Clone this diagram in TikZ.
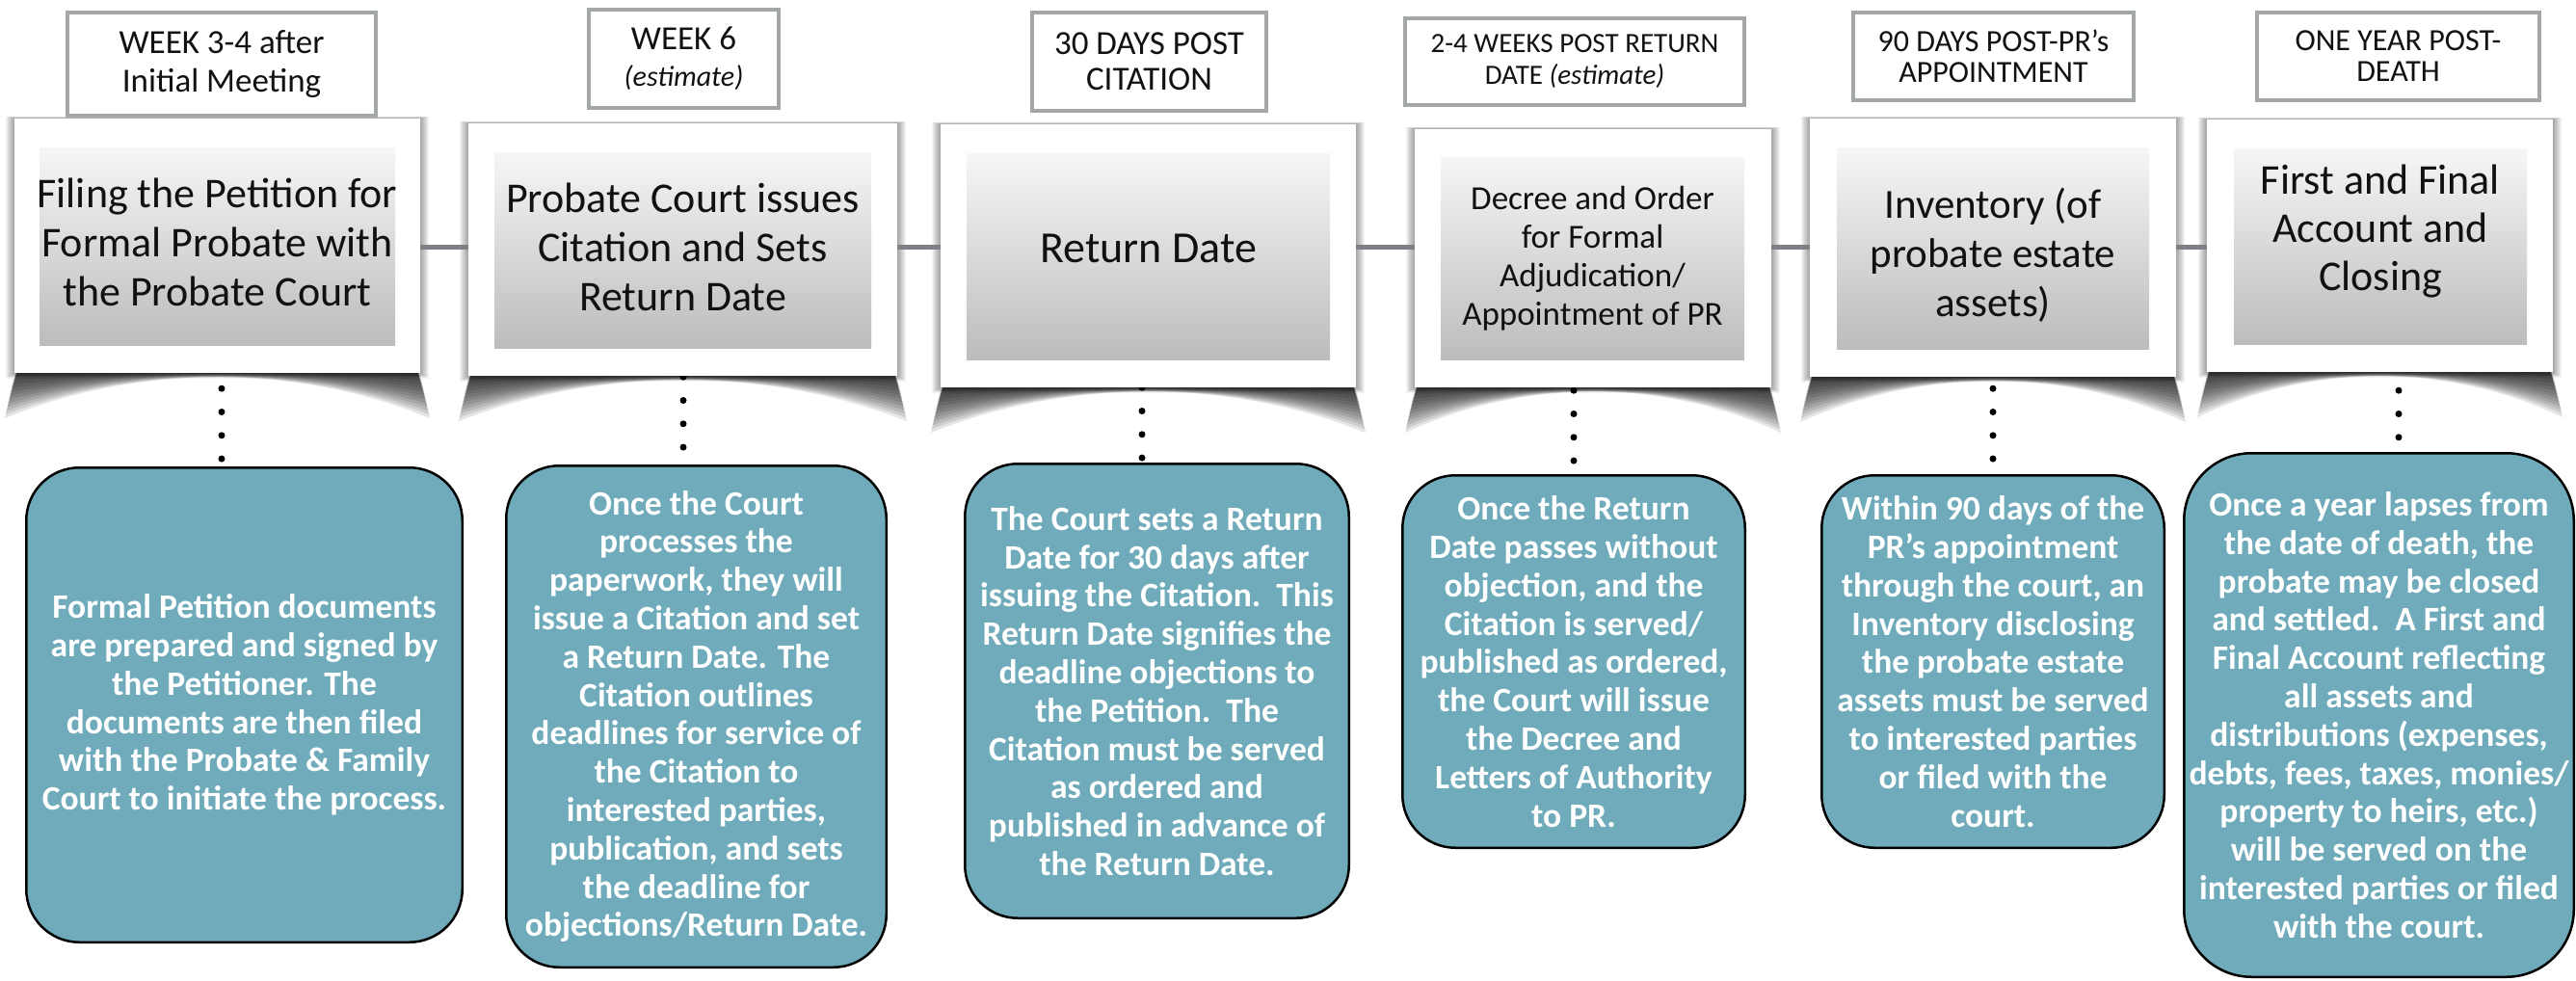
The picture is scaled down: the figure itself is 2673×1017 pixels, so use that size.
\documentclass[tikz,border=0pt]{standalone}
\usepackage{fontspec}
\setmainfont{Carlito}
\usetikzlibrary{calc}
\definecolor{tealfill}{HTML}{6FABBA}
\definecolor{lineg}{HTML}{7D8084}
\definecolor{labg}{HTML}{A3A7A7}
\definecolor{gtop}{HTML}{F6F6F6}
\definecolor{gbot}{HTML}{BCBCBC}
\definecolor{ink}{HTML}{111111}
\tikzset{
  boxgeom/.style 2 args={draw=none, fill=none, inner sep=0pt, minimum width=#1, minimum height=#2},
  mainbox/.style 2 args={fill=white, draw=none, inner sep=0pt, minimum width=#1, minimum height=#2},
  innerbox/.style 2 args={draw=none, top color=gtop, bottom color=gbot, inner sep=0pt, minimum width=#1, minimum height=#2},
  labbox/.style 2 args={draw=labg, line width=4pt, fill=white, inner sep=0pt, minimum width=#1, minimum height=#2, align=center, text=ink},
  notebox/.style 2 args={draw=black, line width=2.5pt, fill=tealfill, rounded corners=55pt, inner sep=0pt, minimum width=#1, minimum height=#2, align=center, text=white, font=\fontsize{35.5}{39.8}\selectfont\bfseries},
  headtext/.style={align=center, text=ink, inner sep=0pt},
  shadelayer/.style={fill=black, fill opacity=#1, draw=none},
  dotline/.style={line width=7pt, line cap=round, dash pattern=on 0pt off 24.3pt},
  tline/.style={draw=lineg, line width=5pt}
}
% soft all-round shadow and curled bottom shadow of a main box
\newcommand{\boxshade}[1]{%
  \foreach \k in {1,...,9}{%
    \fill[shadelayer=0.045] ($(#1.south west)+(-\k,\k*0.6)$) rectangle ($(#1.north east)+(\k,-\k*0.25)$);
  }
  \foreach \f in {1,...,12}{%
    \fill[shadelayer=0.1] ($(#1.south west)+(3,-2)$) -- ($(#1.south west)+(-10*\f/12,47*\f/12)$)
      .. controls ($(#1.south west)!0.3!(#1.south east)+(0,-10*\f/12)$) and ($(#1.south west)!0.7!(#1.south east)+(0,-10*\f/12)$) ..
      ($(#1.south east)+(10*\f/12,47*\f/12)$) -- ($(#1.south east)+(-3,-2)$) -- cycle;
  }
}
\begin{document}
\begin{tikzpicture}[x=1pt,y=-1pt]
\useasboundingbox (0,0) rectangle (2673,1017);
\fill[white] (0,0) rectangle (2673,1017);

% geometry of the six main boxes
\node[boxgeom={421pt}{264pt}] (m1) at (225.5,255) {};
\node[boxgeom={445pt}{262pt}] (m2) at (708.5,259) {};
\node[boxgeom={431pt}{273pt}] (m3) at (1191.5,265.5) {};
\node[boxgeom={370pt}{268pt}] (m4) at (1653,268) {};
\node[boxgeom={380pt}{268pt}] (m5) at (2068,257) {};
\node[boxgeom={359pt}{262pt}] (m6) at (2469.5,255) {};

% teal note boxes
\node[notebox={452.5pt}{492.5pt}] (t1) at (253.5,731.5) {Formal Petition documents\\are prepared and signed by\\the Petitioner. The\\documents are then filed\\with the Probate \& Family\\Court to initiate the process.};
\node[notebox={394.5pt}{520.5pt}] (t2) at (722.5,743.5) {Once the Court\\processes the\\paperwork, they will\\issue a Citation and set\\a Return Date. The\\Citation outlines\\deadlines for service of\\the Citation to\\interested parties,\\publication, and sets\\the deadline for\\objections/Return Date.};
\node[notebox={398.5pt}{471.5pt}] (t3) at (1200.5,717) {The Court sets a Return\\Date for 30 days after\\issuing the Citation.\ \ This\\Return Date signifies the\\deadline objections to\\the Petition.\ \ The\\Citation must be served\\as ordered and\\published in advance of\\the Return Date.};
\node[notebox={355.5pt}{386.5pt}] (t4) at (1633,686.5) {Once the Return\\Date passes without\\objection, and the\\Citation is served/\\published as ordered,\\the Court will issue\\the Decree and\\Letters of Authority\\to PR.};
\node[notebox={355.5pt}{386.5pt}] (t5) at (2068,686.5) {Within 90 days of the\\PR’s appointment\\through the court, an\\Inventory disclosing\\the probate estate\\assets must be served\\to interested parties\\or filed with the\\court.};
\node[notebox={404.5pt}{543.5pt}, rounded corners=70pt] (t6) at (2468.5,742) {Once a year lapses from\\the date of death, the\\probate may be closed\\and settled.\ \ A First and\\Final Account reflecting\\all assets and\\distributions (expenses,\\debts, fees, taxes, monies/\\property to heirs, etc.)\\will be served on the\\interested parties or filed\\with the court.};

% shadows
\boxshade{m1}
\boxshade{m2}
\boxshade{m3}
\boxshade{m4}
\boxshade{m5}
\boxshade{m6}

% dot x positions and timeline level
\coordinate (d1) at (230,0);
\coordinate (d2) at (709,0);
\coordinate (d3) at (1185,0);
\coordinate (d4) at (1633,0);
\coordinate (d5) at (2068,0);
\coordinate (d6) at (2489,0);
\coordinate (tl) at (0,256);

\draw[tline] (m1 |- tl) -- (m6 |- tl);
\draw[dotline, dash phase=8.3pt] (m1.south -| d1) -- (t1.north -| d1);
\draw[dotline, dash phase=23.3pt] (m2.south -| d2) -- (t2.north -| d2);
\draw[dotline, dash phase=0pt] (m3.south -| d3) -- (t3.north -| d3);
\draw[dotline, dash phase=21.3pt] (m4.south -| d4) -- (t4.north -| d4);
\draw[dotline, dash phase=12.3pt] (m5.south -| d5) -- (t5.north -| d5);
\draw[dotline, dash phase=5.3pt] (m6.south -| d6) -- (t6.north -| d6);

% visible white boxes
\node[mainbox={421pt}{264pt}] (w1) at (m1) {};
\node[mainbox={445pt}{262pt}] (w2) at (m2) {};
\node[mainbox={431pt}{273pt}] (w3) at (m3) {};
\node[mainbox={370pt}{268pt}] (w4) at (m4) {};
\node[mainbox={380pt}{268pt}] (w5) at (m5) {};
\node[mainbox={359pt}{262pt}] (w6) at (m6) {};

% inner gradient boxes
\node[innerbox={369pt}{205pt}] (i1) at (225.5,255.5) {};
\node[innerbox={391pt}{203pt}] (i2) at (708.5,259.5) {};
\node[innerbox={377pt}{214pt}] (i3) at (1191.5,266) {};
\node[innerbox={315pt}{210pt}] (i4) at (1652.5,268) {};
\node[innerbox={324pt}{209pt}] (i5) at (2068,257.5) {};
\node[innerbox={304pt}{203pt}] (i6) at (2470,255.5) {};

% headings
\node[headtext, font=\fontsize{44}{51}\selectfont] (h1) at (225.5,251) {Filing the Petition for\\Formal Probate with\\the Probate Court};
\node[headtext, font=\fontsize{44}{51}\selectfont] (h2) at (708.5,256) {Probate Court issues\\Citation and Sets\\Return Date};
\node[headtext, font=\fontsize{46}{51}\selectfont] (h3) at (1191.5,258) {Return Date};
\node[headtext, font=\fontsize{35}{40}\selectfont] (h4) at (1652.5,268) {Decree and Order\\for Formal\\Adjudication/\\Appointment of PR};
\node[headtext, font=\fontsize{43}{51}\selectfont] (h5) at (2068,265) {Inventory (of\\probate estate\\assets)};
\node[headtext, font=\fontsize{44}{50}\selectfont] (h6) at (2470,240) {First and Final\\Account and\\Closing};

% label boxes
\node[labbox={320pt}{107pt}, font=\fontsize{35}{40}\selectfont] (l1) at (230,66.5) {WEEK 3-4 after\\Initial Meeting};
\node[labbox={197pt}{102pt}, font=\fontsize{35}{38}\selectfont] (l2) at (709.5,61) {WEEK 6\\{\fontsize{30}{38}\selectfont\itshape (estimate)}};
\node[labbox={243pt}{102pt}, font=\fontsize{35}{37}\selectfont] (l3) at (1192.5,64) {30 DAYS POST\\CITATION};
\node[labbox={352pt}{90pt}, font=\fontsize{29}{33}\selectfont] (l4) at (1634,64) {2-4 WEEKS POST RETURN\\DATE {\itshape (estimate)}};
\node[labbox={291pt}{91pt}, font=\fontsize{32}{32}\selectfont] (l5) at (2068.5,58.5) {90 DAYS POST-PR’s\\APPOINTMENT};
\node[labbox={293pt}{91pt}, font=\fontsize{32}{32}\selectfont] (l6) at (2488.5,58.5) {ONE YEAR POST-\\DEATH};
\end{tikzpicture}
\end{document}
